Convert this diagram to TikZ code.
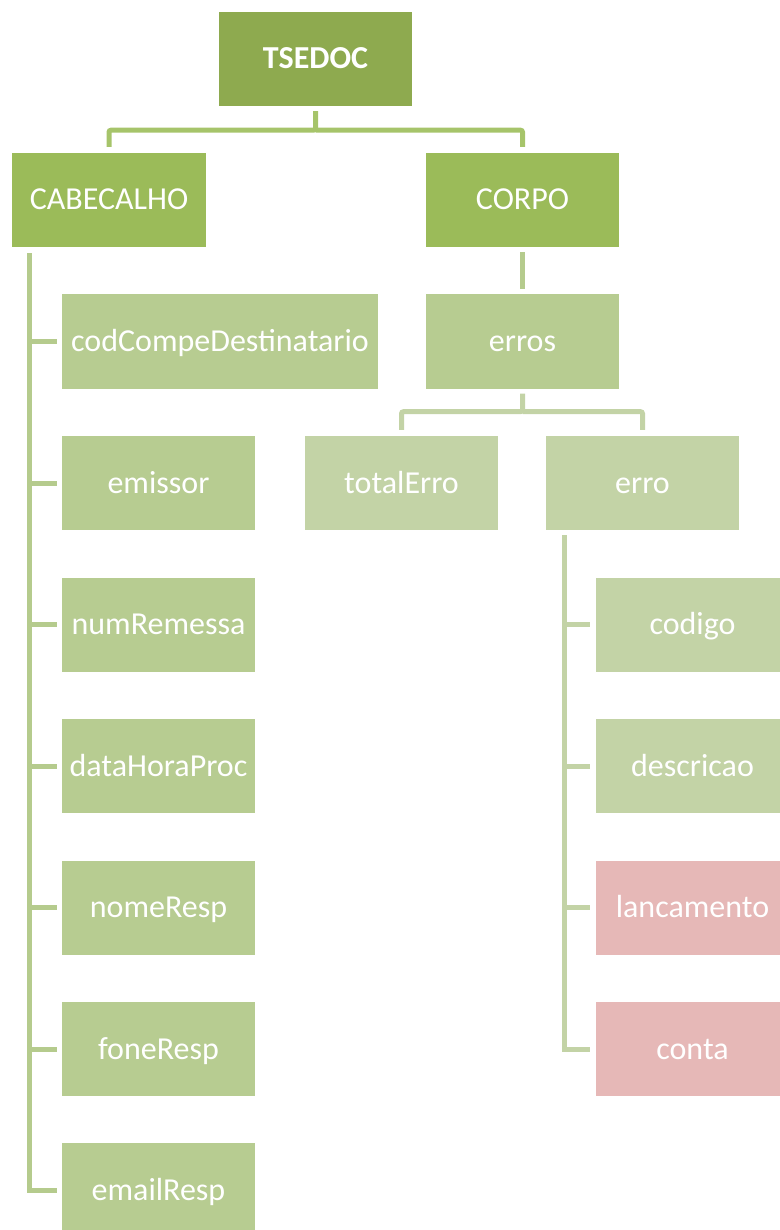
\documentclass[tikz,border=0pt]{standalone}
\usepackage{fontspec}
\setmainfont{Carlito}
\usetikzlibrary{calc}
\definecolor{gdark}{RGB}{142,170,79}
\definecolor{gmid}{RGB}{155,187,89}
\definecolor{glight}{RGB}{183,204,145}
\definecolor{gpale}{RGB}{195,211,166}
\definecolor{pinkbox}{RGB}{230,184,183}
\definecolor{cone}{RGB}{166,196,106}
\definecolor{ctwo}{RGB}{181,203,141}
\definecolor{cthree}{RGB}{195,211,166}
\tikzset{
  box/.style={rectangle, inner sep=0pt, minimum width=193pt, minimum height=94pt,
    text height=27pt, text depth=7pt,
    text=white, font=\fontsize{32}{38}\selectfont},
  conn/.style={line width=5pt},
}
\begin{document}
\begin{tikzpicture}[x=1pt,y=-1pt]
\useasboundingbox (0,0) rectangle (779,1230);
% nodes
\node[box, fill=gdark, font=\fontsize{32}{38}\selectfont\bfseries] (tsedoc) at (315.5,59) {TSEDOC};
\node[box, fill=gmid, minimum width=194pt] (cabecalho) at (109,200) {CABECALHO};
\node[box, fill=gmid] (corpo) at (522.5,200) {CORPO};
\node[box, fill=glight, minimum width=316pt] (l1) at (220,341.5) {codCompeDestinatario};
\node[box, fill=glight] (l2) at (158.5,483) {emissor};
\node[box, fill=glight] (l3) at (158.5,624.5) {numRemessa};
\node[box, fill=glight] (l4) at (158.5,766) {dataHoraProc};
\node[box, fill=glight] (l5) at (158.5,907.5) {nomeResp};
\node[box, fill=glight] (l6) at (158.5,1049) {foneResp};
\node[box, fill=glight] (l7) at (158.5,1190) {emailResp};
\node[box, fill=glight] (erros) at (522.5,341.5) {erros};
\node[box, fill=gpale] (totalErro) at (401.5,483) {totalErro};
\node[box, fill=gpale] (erro) at (642.5,483) {erro};
\node[box, fill=gpale] (codigo) at (692.5,624.5) {codigo};
\node[box, fill=gpale] (descricao) at (692.5,766) {descricao};
\node[box, fill=pinkbox] (lancamento) at (692.5,907.5) {lancamento};
\node[box, fill=pinkbox] (conta) at (692.5,1049) {conta};
% top connectors
\coordinate (tb) at ($(tsedoc.south)+(0,5)$);
\coordinate (tbar) at ($(tsedoc.south)+(0,24)$);
\draw[conn, cone, rounded corners=2pt] (tb) -- (tbar) -| ($(cabecalho.north)+(0,-6)$);
\draw[conn, cone, rounded corners=2pt] (tbar) -| ($(corpo.north)+(0,-6)$);
% cabecalho children
\coordinate (lt) at ($(cabecalho.south west)+(18,6)$);
\draw[conn, ctwo, shorten >=5pt] (lt) |- (l7.west);
\foreach \n in {l1,l2,l3,l4,l5,l6}
  \draw[conn, ctwo, shorten >=5pt] (lt |- \n.west) -- (\n.west);
% corpo -> erros
\draw[conn, ctwo, shorten <=5pt, shorten >=5pt] (corpo.south) -- (erros.north);
% erros -> children
\coordinate (eb) at ($(erros.south)+(0,5)$);
\coordinate (ebar) at ($(erros.south)+(0,23)$);
\draw[conn, cthree, rounded corners=2pt] (eb) -- (ebar) -| ($(totalErro.north)+(0,-6)$);
\draw[conn, cthree, rounded corners=2pt] (ebar) -| ($(erro.north)+(0,-6)$);
% erro children
\coordinate (et) at ($(erro.south west)+(19,5)$);
\draw[conn, cthree, shorten >=6pt] (et) |- (conta.west);
\foreach \n in {codigo,descricao,lancamento}
  \draw[conn, cthree, shorten >=6pt] (et |- \n.west) -- (\n.west);
\end{tikzpicture}
\end{document}
